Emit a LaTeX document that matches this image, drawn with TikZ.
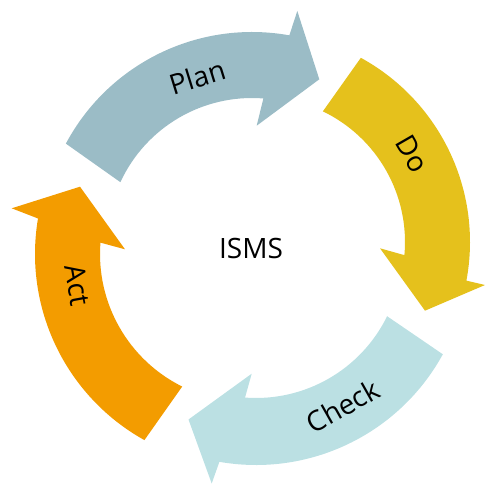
\documentclass[tikz,border=0pt]{standalone}
\usepackage{fontspec}
\setmainfont{Open Sans}
\usetikzlibrary{calc}
\definecolor{planc}{HTML}{9BBCC6}
\definecolor{doc}{HTML}{E5C11C}
\definecolor{checkc}{HTML}{BBE0E3}
\definecolor{actc}{HTML}{F39C00}
\begin{document}
\begin{tikzpicture}[x=1pt,y=-1pt,
  lab/.style={font=\fontsize{28}{32}\selectfont, text=black, inner sep=0pt}]
\useasboundingbox (0,0) rectangle (485,484);
\coordinate (cP) at (252,243);
\coordinate (cD) at (260,242);
\coordinate (cC) at (256,252);
\coordinate (cA) at (248,254);
% Plan
\fill[planc] ($(cP)+(-151.9:211)$) arc[start angle=-151.9,end angle=-79.8,radius=211]
  -- (297.3,11) -- (319.3,79.3) -- (256.7,125.7)
  -- ($(cP)+(-85.5:145)$) arc[start angle=-85.5,end angle=-155.2,radius=145] -- cycle;
% Do
\fill[doc] ($(cD)+(-61.3:210)$) arc[start angle=-61.3,end angle=10.6,radius=210]
  -- (485,285) -- (425,310.7) -- (380,248.3)
  -- ($(cD)+(5.2:145)$) arc[start angle=5.2,end angle=-64.3,radius=145] -- cycle;
% Check
\fill[checkc] ($(cC)+(28.7:213)$) arc[start angle=28.7,end angle=99.9,radius=213]
  -- (211.7,483.5) -- (188.5,419.5) -- (251.7,373.7)
  -- ($(cC)+(94.3:146)$) arc[start angle=94.3,end angle=26.1,radius=146] -- cycle;
% Act
\fill[actc] ($(cA)+(119.1:213)$) arc[start angle=119.1,end angle=189.6,radius=213]
  -- (11.7,208.3) -- (80,186.7) -- (125,249.3)
  -- ($(cA)+(184.4:148)$) arc[start angle=184.4,end angle=116.4,radius=148] -- cycle;
\node[lab, rotate=17.2] (plan) at (197.5,77) {Plan};
\node[lab, rotate=-60] (do) at (412,154) {Do};
\node[lab, rotate=29.5] (check) at (343,406) {Check};
\node[lab, rotate=-79.7] (act) at (77.5,285) {Act};
\node[lab] (isms) at (251,248) {ISMS};
\end{tikzpicture}
\end{document}
